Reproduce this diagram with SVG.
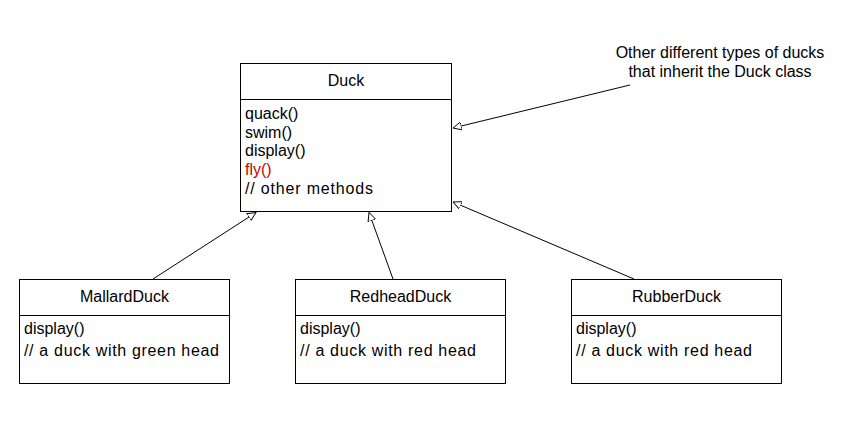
<svg xmlns="http://www.w3.org/2000/svg" width="854" height="430" viewBox="0 0 854 430">
<style>
  .box { fill: #ffffff; stroke: #000000; stroke-width: 1; }
  .div { stroke: #000000; stroke-width: 1; }
  .t { font-family: "Liberation Sans", Arial, sans-serif; font-size: 16px; fill: #000000; }
  .c { text-anchor: middle; }
  .red { fill: #cc0000; }
  .edge { fill: none; stroke: #000000; stroke-width: 1; marker-end: url(#tri); }
</style>
<defs>
  <marker id="tri" viewBox="0 0 10 10" refX="9.5" refY="5" markerWidth="9" markerHeight="9" markerUnits="userSpaceOnUse" orient="auto">
    <path d="M0,0.5 L9.5,5 L0,9.5 Z" fill="#ffffff" stroke="#000000" stroke-width="1"/>
  </marker>
</defs>
<rect width="854" height="430" fill="#ffffff"/>
<g id="connectors">
  <line class="edge" x1="153" y1="279" x2="256" y2="212.5"/>
  <line class="edge" x1="393" y1="279" x2="369" y2="212.5"/>
  <line class="edge" x1="634" y1="279" x2="453" y2="202"/>
  <line class="edge" x1="630" y1="85" x2="453" y2="128"/>
</g>
<g id="duck">
  <rect class="box" x="240.5" y="63.5" width="211" height="148"/>
  <line class="div" x1="240.5" y1="99.5" x2="451.5" y2="99.5"/>
  <text class="t c" x="346" y="86">Duck</text>
  <text class="t" x="245" y="119">quack()</text>
  <text class="t" x="245" y="137.7">swim()</text>
  <text class="t" x="245" y="156.4">display()</text>
  <text class="t red" x="245" y="175.1">fly()</text>
  <text class="t" x="245" y="193.8" textLength="128" lengthAdjust="spacing">// other methods</text>
</g>
<g id="mallard">
  <rect class="box" x="19.5" y="279.5" width="210" height="104"/>
  <line class="div" x1="19.5" y1="315.5" x2="229.5" y2="315.5"/>
  <text class="t c" x="124.5" y="302">MallardDuck</text>
  <text class="t" x="24" y="333.5">display()</text>
  <text class="t" x="24" y="356" textLength="195" lengthAdjust="spacing">// a duck with green head</text>
</g>
<g id="redhead">
  <rect class="box" x="295.5" y="279.5" width="210" height="104"/>
  <line class="div" x1="295.5" y1="315.5" x2="505.5" y2="315.5"/>
  <text class="t c" x="400.5" y="302">RedheadDuck</text>
  <text class="t" x="300" y="333.5">display()</text>
  <text class="t" x="300" y="356" textLength="176" lengthAdjust="spacing">// a duck with red head</text>
</g>
<g id="rubber">
  <rect class="box" x="571.5" y="279.5" width="210" height="104"/>
  <line class="div" x1="571.5" y1="315.5" x2="781.5" y2="315.5"/>
  <text class="t c" x="676.5" y="302">RubberDuck</text>
  <text class="t" x="576" y="333.5">display()</text>
  <text class="t" x="576" y="356" textLength="176" lengthAdjust="spacing">// a duck with red head</text>
</g>
<g id="note">
  <text class="t c" x="720" y="58.3">Other different types of ducks</text>
  <text class="t c" x="720" y="76.8">that inherit the Duck class</text>
</g>
</svg>
